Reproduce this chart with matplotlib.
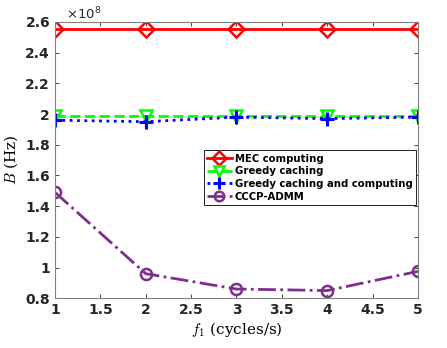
import numpy as np
import matplotlib
matplotlib.use('Agg')
from matplotlib import pyplot as plt

plt.rcParams['mathtext.fontset'] = 'cm'

f1 = [1, 2, 3, 4, 5]
mec = [2.555e8, 2.555e8, 2.555e8, 2.555e8, 2.555e8]
greedy_cache = [1.99e8, 1.99e8, 1.99e8, 1.99e8, 1.99e8]
greedy_cc = [1.96e8, 1.95e8, 1.98e8, 1.97e8, 1.98e8]
admm = [1.49e8, 0.96e8, 0.86e8, 0.85e8, 0.975e8]

fig = plt.figure(figsize=(4.47, 3.48), dpi=100)
ax = fig.add_axes([0.123, 0.143, 0.812, 0.794])

purple = '#7E2F8E'
ax.plot(f1, mec, '-', color='red', lw=2, marker='D', ms=8, mfc='none', mew=1.8, label='MEC computing')
ax.plot(f1, greedy_cache, '--', color='#00FF00', lw=2, marker='v', ms=9, mfc='none', mew=1.8, label='Greedy caching')
ax.plot(f1, greedy_cc, ':', color='blue', lw=2, marker='+', ms=10, mew=2.2, label='Greedy caching and computing')
ax.plot(f1, admm, '-.', color=purple, lw=2, marker='o', ms=8, mfc='none', mew=1.8, label='CCCP-ADMM')

ax.set_xlim(1, 5)
ax.set_ylim(0.8e8, 2.6e8)
ax.set_xticks(np.arange(1, 5.01, 0.5))
ax.set_xticklabels(['1', '1.5', '2', '2.5', '3', '3.5', '4', '4.5', '5'])
ax.set_yticks(np.arange(0.8e8, 2.61e8, 0.2e8))
ax.set_yticklabels(['0.8', '1', '1.2', '1.4', '1.6', '1.8', '2', '2.2', '2.4', '2.6'])
ax.text(0.03, 1.0, r'$\mathregular{\times10^8}$', transform=ax.transAxes, fontsize=9.5, va='bottom', ha='left',
        color='#262626', family='DejaVu Sans')

ax.tick_params(direction='in', top=True, right=True, length=3, width=0.6, colors='#262626', labelsize=10)
for lab in ax.get_xticklabels() + ax.get_yticklabels():
    lab.set_fontweight('bold')
for s in ax.spines.values():
    s.set_color('#808080')
    s.set_linewidth(0.8)

ax.set_xlabel(r'$f_1$ (cycles/s)', fontsize=11, family='serif', labelpad=2)
ax.set_ylabel(r'$B$ (Hz)', fontsize=11, family='serif', labelpad=4)

leg = ax.legend(loc='upper right', bbox_to_anchor=(0.995, 0.535), prop={'weight': 'bold', 'size': 7.3},
                fancybox=False, edgecolor='black', framealpha=1, handlelength=2.4, markerscale=0.85,
                borderpad=0.35, labelspacing=0.25, handletextpad=0.3, borderaxespad=0)
leg.get_frame().set_linewidth(0.6)

fig.savefig('out.png', dpi=100)
